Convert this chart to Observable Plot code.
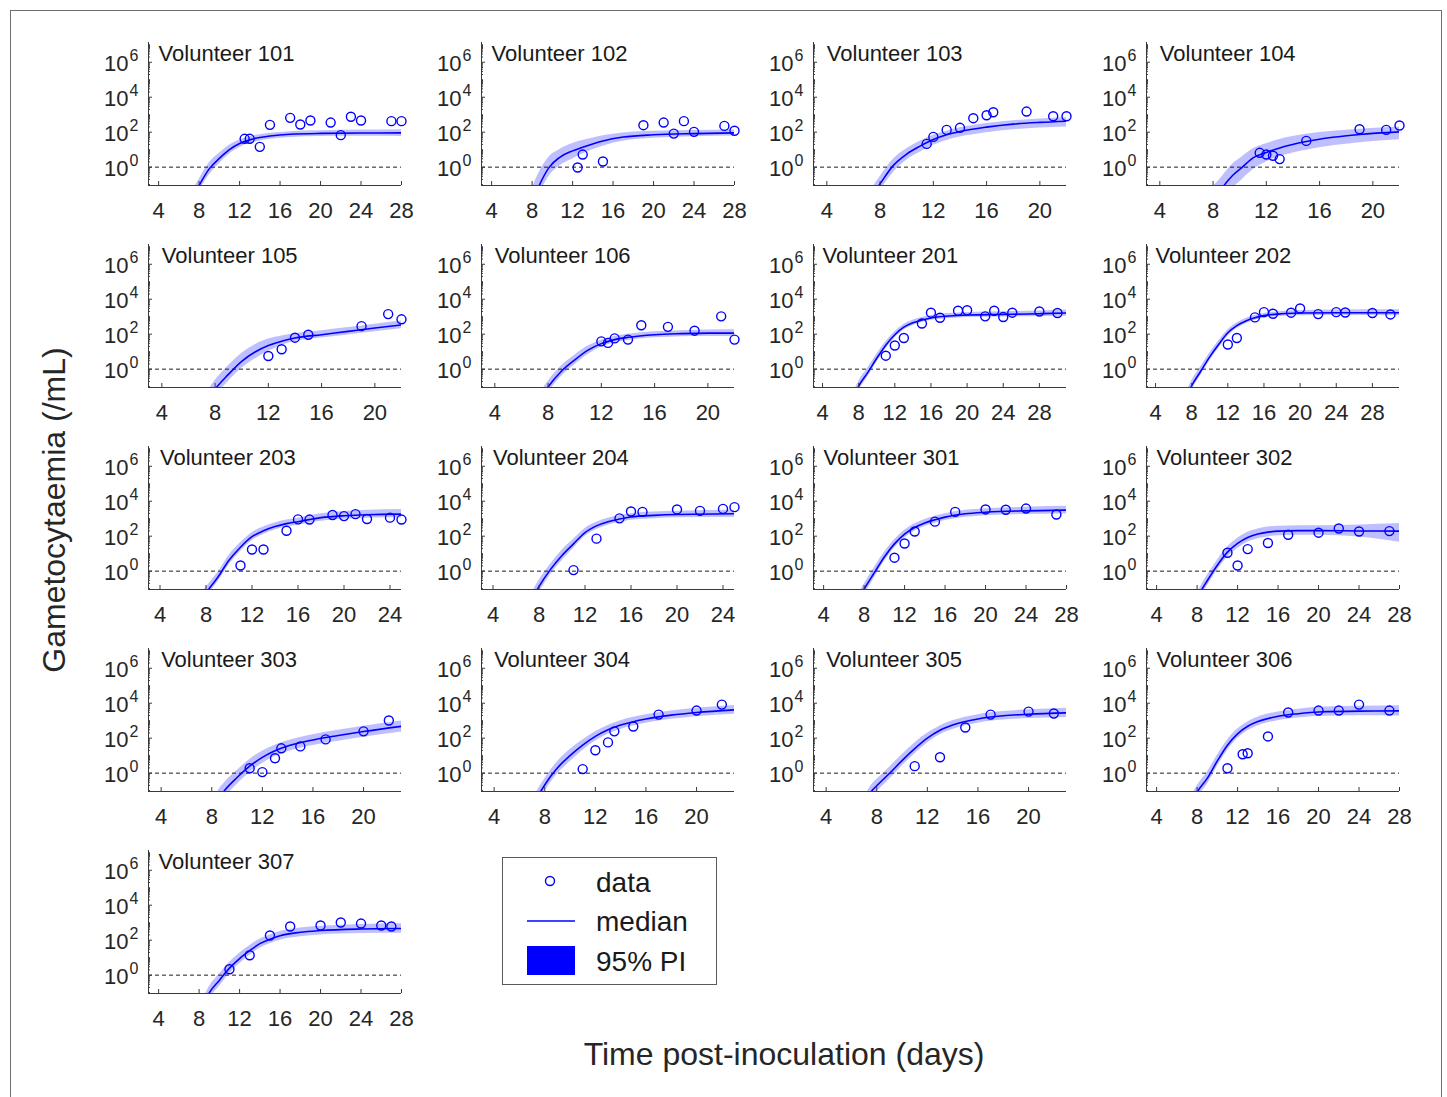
<!DOCTYPE html>
<html><head><meta charset="utf-8">
<script src="https://cdn.jsdelivr.net/npm/d3@7"></script>
<script src="https://cdn.jsdelivr.net/npm/@observablehq/plot@0.6"></script>
<style>
body{margin:0;background:#fff;}
#fig{position:relative;width:1447px;height:1097px;background:#fff;font-family:"Liberation Sans",Arial,Helvetica,sans-serif;color:#262626;overflow:hidden;}
.panel{position:absolute;}
.border{position:absolute;left:10px;top:10px;width:1432px;height:1110px;border:1px solid #6f6f6f;box-sizing:border-box;}
.ylab{position:absolute;left:54px;top:510px;transform:translate(-50%,-50%) rotate(-90deg);font-size:32px;line-height:1;white-space:nowrap;}
.xlab{position:absolute;left:784px;top:1054px;transform:translate(-50%,-50%);font-size:32px;line-height:1;white-space:nowrap;}
#legend{position:absolute;left:502px;top:857px;}
</style></head><body>
<div id="fig"><div class="border"></div>
<div class="ylab">Gametocytaemia (/mL)</div>
<div class="xlab">Time post-inoculation (days)</div>
</div>
<script>
// ---------- data ----------
const volunteers = ["101","102","103","104","105","106","201","202","203","204","301","302","303","304","305","306","307"];
const xMin = 3;
const xMax = [28,28,22,22,22,22,31,31,25,25,28,28,23,23,23,28,28];
const ticks28 = [4,8,12,16,20,24,28];
const ticks24 = [4,8,12,16,20,24];
const ticks20 = [4,8,12,16,20];
const xTickSets = [ticks28,ticks28,ticks20,ticks20,ticks20,ticks20,ticks28,ticks28,ticks24,ticks24,ticks28,ticks28,ticks20,ticks20,ticks20,ticks28,ticks28];
const yLimLog = [-1.05, 7.13];
const yLabelExp = [0,2,4,6];
const detectionLimit = [1];
const titleX = 4, titleYLog = 6.1;

// observed gametocytaemia: day and log10(/mL)
const obsDay = [
 [12.5,13,14,15,17,18,19,21,22,23,24,27,28],
 [12.5,13,15,19,21,22,23,24,27,28],
 [11.5,12,13,14,15,16,16.5,19,21,22],
 [11.5,12,12.5,13,15,19,21,22],
 [12,13,14,15,19,21,22],
 [12,12.5,13,14,15,17,19,21,22],
 [11,12,13,15,16,17,19,20,22,23,24,25,28,30],
 [12,13,15,16,17,19,20,22,24,25,28,30],
 [11,12,13,15,16,17,19,20,21,22,24,25],
 [11,13,15,16,17,20,22,24,25],
 [11,12,13,15,17,20,22,24,27],
 [11,12,13,15,17,20,22,24,27],
 [11,12,13,13.5,15,17,20,22],
 [11,12,13,13.5,15,17,20,22],
 [11,13,15,17,20,22],
 [11,12.5,13,15,17,20,22,24,27],
 [11,13,15,17,20,22,24,26,27]
];
const obsLog = [
 [1.62,1.62,1.16,2.42,2.82,2.44,2.67,2.55,1.83,2.88,2.67,2.63,2.63],
 [-0.02,0.72,0.32,2.4,2.55,1.92,2.63,2.02,2.36,2.08],
 [1.33,1.73,2.13,2.25,2.8,2.97,3.14,3.18,2.91,2.91],
 [0.82,0.72,0.65,0.46,1.5,2.17,2.13,2.38],
 [0.75,1.14,1.8,1.97,2.46,3.15,2.85],
 [1.59,1.5,1.76,1.69,2.51,2.42,2.2,3.02,1.69],
 [0.77,1.35,1.78,2.61,3.23,2.94,3.34,3.37,3.02,3.34,2.98,3.23,3.3,3.21],
 [1.41,1.78,2.96,3.26,3.17,3.23,3.47,3.15,3.26,3.24,3.21,3.13],
 [0.32,1.24,1.24,2.31,2.96,2.95,3.21,3.15,3.26,2.98,3.06,2.95],
 [0.06,1.86,3.02,3.41,3.39,3.53,3.45,3.56,3.66],
 [0.77,1.58,2.27,2.83,3.39,3.53,3.51,3.58,3.24],
 [1.05,0.32,1.26,1.61,2.08,2.2,2.44,2.27,2.29],
 [0.28,0.06,0.85,1.42,1.53,1.93,2.39,3.01],
 [0.23,1.31,1.76,2.39,2.67,3.35,3.58,3.92],
 [0.4,0.91,2.61,3.35,3.52,3.41],
 [0.28,1.08,1.14,2.1,3.47,3.58,3.58,3.92,3.58],
 [0.34,1.14,2.27,2.78,2.84,3.01,2.95,2.84,2.78]
];
// model: median and 95% PI, log10(/mL)
const curveDay = [
 [7.5,8,9,10,11,12,13,14,15,17,20,24,28],
 [8,8.7,9.7,10.7,12,13,15,17,20,24,28],
 [7.5,8,9,10,11,12,13,14,16,18,20,22],
 [8,8.5,8.82,9.5,10.2,11,12,13,15,17,19,22],
 [7.5,8,9,10,11,12,13,14,16,18,20,22],
 [7.5,8,9,10,11,12,13,14,16,18,20,22],
 [7.5,8,9,10,11,12,13,14,15,16,18,20,24,28,31],
 [7.5,8,9,10,11,12,13,14,15,16,18,20,24,31],
 [7.8,8.27,9,10,11,12,13,14,15,16,18,20,22,25],
 [7.5,7.89,9,10,11,12,13,14,15,16,18,20,25],
 [7.5,8,9,10,11,12,13,14,15,16,18,20,24,28],
 [8,8.52,9,10,11,12,13,14,15,16,18,20,24,28],
 [8.5,9,10,11,12,13,14,16,18,20,23],
 [7.3,7.7,8.5,9,10,11,12,13,14,16,18,20,23],
 [7.2,7.6,8,9,10,11,12,13,14,16,18,20,23],
 [7.5,8.07,9,10,11,12,13,14,16,18,20,24,28],
 [8.5,9,10,11,12,13,14,15,16,18,20,24,28]
];
const medLog = [
 [-1.6,-1.05,-0.1,0.5,1.0,1.35,1.56,1.7,1.78,1.88,1.93,1.95,1.96],
 [-2.0,-1.05,0,0.55,0.93,1.14,1.5,1.72,1.85,1.92,1.96],
 [-1.5,-0.95,0.1,0.75,1.2,1.58,1.85,2.04,2.29,2.46,2.56,2.63],
 [-1.9,-1.4,-1.05,-0.45,0,0.53,0.84,1.1,1.47,1.71,1.87,2.02],
 [-1.7,-1.15,-0.3,0.45,0.98,1.35,1.6,1.78,1.97,2.16,2.35,2.53],
 [-1.6,-1.02,-0.12,0.53,1.09,1.46,1.69,1.82,1.97,2.03,2.06,2.06],
 [-1.55,-0.97,-0.2,0.62,1.37,1.97,2.4,2.65,2.81,2.93,3.04,3.1,3.13,3.17,3.21],
 [-1.5,-0.95,-0.12,0.7,1.42,2.08,2.49,2.76,2.94,3.06,3.17,3.21,3.23,3.23],
 [-1.45,-1.0,-0.38,0.62,1.37,1.97,2.31,2.55,2.72,2.83,3.06,3.17,3.23,3.26],
 [-1.45,-1.0,0.1,0.9,1.56,2.21,2.59,2.83,2.98,3.1,3.19,3.24,3.28],
 [-1.55,-1.03,-0.1,0.81,1.56,2.12,2.5,2.76,2.94,3.09,3.28,3.37,3.45,3.49],
 [-1.6,-1.0,-0.55,0.34,1.09,1.59,1.93,2.12,2.23,2.29,2.32,2.32,2.3,2.29],
 [-1.5,-1.0,-0.25,0.4,0.9,1.28,1.55,1.9,2.15,2.38,2.68],
 [-1.5,-1.02,-0.15,0.3,1.0,1.6,2.1,2.48,2.75,3.1,3.32,3.47,3.62],
 [-1.5,-1.02,-0.72,-0.02,0.72,1.4,2.0,2.45,2.75,3.1,3.28,3.37,3.45],
 [-1.6,-1.02,-0.3,0.7,1.6,2.25,2.68,2.95,3.25,3.4,3.5,3.55,3.56],
 [-1.6,-1.02,-0.3,0.4,0.95,1.4,1.8,2.05,2.25,2.45,2.55,2.64,2.67]
];
const loLog = [
 [-2.0,-1.4,-0.45,0.2,0.75,1.12,1.36,1.5,1.6,1.7,1.75,1.77,1.76],
 [-2.6,-1.6,-0.5,0.05,0.47,0.75,1.2,1.48,1.65,1.74,1.78],
 [-1.9,-1.35,-0.3,0.4,0.85,1.25,1.53,1.72,1.97,2.14,2.24,2.3],
 [-2.8,-2.2,-1.9,-1.2,-0.7,-0.15,0.3,0.6,0.97,1.22,1.4,1.56],
 [-2.2,-1.6,-0.7,0.05,0.58,1.02,1.35,1.58,1.78,1.96,2.14,2.31],
 [-1.95,-1.35,-0.42,0.25,0.84,1.26,1.5,1.64,1.79,1.85,1.87,1.86],
 [-1.85,-1.25,-0.45,0.4,1.17,1.78,2.24,2.5,2.67,2.79,2.9,2.96,2.98,3.01,3.03],
 [-1.8,-1.22,-0.36,0.48,1.2,1.88,2.32,2.6,2.79,2.91,3.02,3.06,3.07,3.05],
 [-1.8,-1.3,-0.65,0.35,1.12,1.74,2.1,2.35,2.52,2.63,2.86,2.97,3.03,3.05],
 [-1.8,-1.35,-0.2,0.6,1.3,1.98,2.38,2.63,2.79,2.91,3.0,3.05,3.08],
 [-1.85,-1.35,-0.4,0.55,1.33,1.9,2.3,2.56,2.74,2.89,3.08,3.17,3.24,3.27],
 [-1.9,-1.3,-0.85,0.05,0.8,1.3,1.65,1.85,1.96,2.02,2.06,2.05,1.95,1.65],
 [-2.0,-1.45,-0.65,0.02,0.55,0.95,1.23,1.58,1.83,2.06,2.36],
 [-1.85,-1.37,-0.5,-0.05,0.65,1.3,1.83,2.23,2.5,2.86,3.08,3.23,3.37],
 [-1.85,-1.37,-1.07,-0.37,0.4,1.1,1.72,2.2,2.5,2.86,3.04,3.12,3.19],
 [-1.95,-1.37,-0.65,0.38,1.3,1.98,2.42,2.7,3.0,3.15,3.24,3.28,3.27],
 [-1.95,-1.37,-0.65,0.08,0.65,1.12,1.54,1.8,2.0,2.2,2.3,2.38,2.4]
];
const hiLog = [
 [-1.2,-0.7,0.25,0.8,1.25,1.55,1.74,1.86,1.94,2.03,2.08,2.12,2.14],
 [-1.2,-0.3,0.6,1.0,1.35,1.52,1.8,1.96,2.05,2.1,2.13],
 [-1.1,-0.55,0.45,1.05,1.48,1.82,2.06,2.25,2.5,2.66,2.76,2.83],
 [-1.1,-0.7,-0.4,0.2,0.6,1.05,1.34,1.58,1.88,2.05,2.17,2.29],
 [-1.2,-0.65,0.2,0.9,1.4,1.72,1.9,2.03,2.2,2.38,2.57,2.75],
 [-1.25,-0.7,0.18,0.8,1.32,1.66,1.87,1.99,2.14,2.2,2.24,2.25],
 [-1.25,-0.7,0.05,0.85,1.57,2.14,2.55,2.79,2.95,3.07,3.18,3.24,3.28,3.32,3.38],
 [-1.2,-0.68,0.12,0.92,1.62,2.24,2.64,2.9,3.07,3.19,3.3,3.35,3.38,3.4],
 [-1.1,-0.7,-0.1,0.9,1.62,2.2,2.52,2.75,2.92,3.03,3.28,3.41,3.48,3.52],
 [-1.1,-0.65,0.4,1.2,1.82,2.44,2.8,3.03,3.17,3.29,3.38,3.43,3.48],
 [-1.25,-0.75,0.2,1.07,1.79,2.34,2.7,2.96,3.14,3.29,3.48,3.57,3.66,3.71],
 [-1.3,-0.7,-0.25,0.63,1.38,1.88,2.22,2.41,2.52,2.57,2.6,2.6,2.64,2.72],
 [-1.0,-0.55,0.15,0.78,1.25,1.6,1.85,2.2,2.45,2.68,2.98],
 [-1.15,-0.67,0.2,0.65,1.35,1.9,2.37,2.73,3.0,3.34,3.56,3.71,3.87],
 [-1.15,-0.67,-0.37,0.33,1.05,1.72,2.28,2.7,2.99,3.34,3.52,3.62,3.71],
 [-1.25,-0.67,0.05,1.02,1.9,2.52,2.93,3.2,3.5,3.66,3.77,3.83,3.86],
 [-1.25,-0.67,0.05,0.72,1.25,1.68,2.06,2.3,2.5,2.7,2.8,2.9,2.94]
];
const legendLabels = ["data","median","95% PI"];

// ---------- layout ----------
const colLeft = [148, 481, 813, 1146];
const rowTop = [42, 244, 446, 648, 850];
const FW = 253, FH = 143;
const ML = 60, MR = 14, MT = 10, MB = 44;
const BLUE = "#0000ff", INK = "#262626";
const FONT = '"Liberation Sans", Arial, Helvetica, sans-serif';

const minorExp = [];
for (let k = -2; k <= 7; k++) for (let m = 2; m <= 9; m++) minorExp.push(k + Math.log10(m));
for (let k = -1; k <= 7; k += 2) minorExp.push(k);
const majorExp = yLabelExp;

const fig = document.getElementById("fig");
volunteers.forEach((name, i) => {
  const col = i % 4, row = Math.floor(i / 4);
  const pts = obsDay[i].map((d, j) => ({day: d, v: 10 ** obsLog[i][j]}));
  const crv = curveDay[i].map((d, j) => ({day: d, m: 10 ** medLog[i][j], lo: 10 ** loLog[i][j], hi: 10 ** hiLog[i][j]}));
  const yDom = [10 ** yLimLog[0], 10 ** yLimLog[1]];
  const inRange = e => e >= yLimLog[0] && e <= yLimLog[1];
  const svg = Plot.plot({
    width: ML + FW + MR, height: MT + FH + MB,
    marginLeft: ML, marginRight: MR, marginTop: MT, marginBottom: MB,
    x: {domain: [xMin, xMax[i]]},
    y: {type: "log", domain: yDom, axis: null},
    style: {fontFamily: FONT, background: "transparent", overflow: "visible", color: INK},
    marks: [
      Plot.areaY(crv, {x: "day", y1: "lo", y2: "hi", fill: BLUE, fillOpacity: 0.25, curve: "monotone-x", clip: true}),
      Plot.ruleY(detectionLimit, {stroke: "#1f1f1f", strokeWidth: 1, strokeDasharray: "4,3"}),
      Plot.line(crv, {x: "day", y: "m", stroke: BLUE, strokeWidth: 1.6, curve: "monotone-x", clip: true}),
      Plot.dot(pts, {x: "day", y: "v", r: 4.5, stroke: BLUE, strokeWidth: 1.4, fill: "none"}),
      // axes
      Plot.ruleX([xMin], {stroke: "#3a3a3a", strokeWidth: 1}),
      Plot.ruleY([yDom[0]], {stroke: "#3a3a3a", strokeWidth: 1}),
      Plot.tickX(xTickSets[i], {x: d => d, insetTop: FH - 4, stroke: "#3a3a3a"}),
      Plot.tickY(majorExp, {y: e => 10 ** e, insetRight: FW - 4, stroke: "#3a3a3a"}),
      Plot.tickY(minorExp.filter(inRange), {y: e => 10 ** e, insetRight: FW - 2, stroke: "#3a3a3a"}),
      Plot.axisX(xTickSets[i], {tickSize: 0, tickPadding: 17, fontSize: 22, color: INK, label: null}),
      Plot.text(yLabelExp, {y: e => 10 ** e, frameAnchor: "left", text: () => "10", textAnchor: "end", dx: -20, dy: 2, fontSize: 22, fill: INK}),
      Plot.text(yLabelExp, {y: e => 10 ** e, frameAnchor: "left", text: e => String(e), textAnchor: "start", dx: -19, dy: -6, fontSize: 16, fill: INK}),
      Plot.text([name], {x: () => titleX, y: () => 10 ** titleYLog, text: d => "Volunteer " + d, textAnchor: "start", lineAnchor: "bottom", fontSize: 22, fill: "#1a1a1a"})
    ]
  });
  svg.classList.add("panel");
  svg.style.left = (colLeft[col] - ML) + "px";
  svg.style.top = (rowTop[row] - MT) + "px";
  fig.appendChild(svg);
});

// ---------- legend ----------
const ns = "http://www.w3.org/2000/svg";
const lg = document.createElementNS(ns, "svg");
lg.setAttribute("id", "legend");
lg.setAttribute("width", 216); lg.setAttribute("height", 129);
lg.innerHTML = `<rect x="0.5" y="0.5" width="214" height="127" fill="#fff" stroke="#5a5a5a"/>
<circle cx="48" cy="24" r="4.5" fill="none" stroke="${BLUE}" stroke-width="1.4"/>
<line x1="25" x2="73" y1="64" y2="64" stroke="${BLUE}" stroke-width="1.6"/>
<rect x="25" y="89" width="48" height="29" fill="${BLUE}"/>`;
[25, 64, 104].forEach((cy, k) => {
  const t = document.createElementNS(ns, "text");
  t.setAttribute("x", 94); t.setAttribute("y", cy + 10);
  t.setAttribute("font-size", 28); t.setAttribute("fill", "#1a1a1a");
  t.setAttribute("font-family", FONT);
  t.textContent = legendLabels[k];
  lg.appendChild(t);
});
fig.appendChild(lg);
</script>
</body></html>
